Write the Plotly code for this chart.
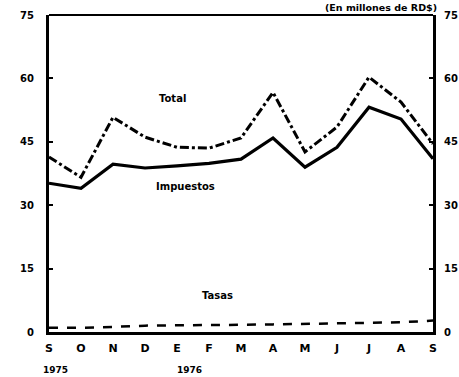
import plotly.graph_objects as go

# Monthly revenue, Sept 1975 - Sept 1976
meses = ["S", "O", "N", "D", "E", "F", "M", "A", "M", "J", "J", "A", "S"]
total = [41.4, 36.6, 50.8, 46.1, 43.7, 43.5, 45.9, 56.7, 42.6, 48.5, 60.3, 54.4, 44.5]
impuestos = [35.2, 34.0, 39.7, 38.8, 39.3, 39.9, 40.9, 45.9, 39.0, 43.7, 53.2, 50.4, 41.0]
tasas = [1.0, 1.0, 1.2, 1.5, 1.6, 1.6, 1.7, 1.8, 1.9, 2.0, 2.1, 2.3, 2.7]
y_ticks = [0, 15, 30, 45, 60, 75]

x = list(range(len(meses)))
FONT = dict(family="DejaVu Sans", color="black", weight="bold")

fig = go.Figure()
fig.add_trace(go.Scatter(x=x, y=total, mode="lines",
                         line=dict(color="black", width=3, dash="dashdot")))
fig.add_trace(go.Scatter(x=x, y=impuestos, mode="lines",
                         line=dict(color="black", width=3.2)))
fig.add_trace(go.Scatter(x=x, y=tasas, mode="lines",
                         line=dict(color="black", width=2.5, dash="dash")))
# invisible trace to drive the right-hand axis
fig.add_trace(go.Scatter(x=x, y=impuestos, yaxis="y2", mode="lines",
                         line=dict(width=0), opacity=0, hoverinfo="skip"))

fig.update_layout(
    width=459, height=377,
    margin=dict(l=49, r=26, t=15, b=45, autoexpand=False),
    paper_bgcolor="white", plot_bgcolor="white",
    showlegend=False,
    font=dict(FONT, size=10),
    xaxis=dict(range=[0, 12], tickmode="array", tickvals=x, ticktext=meses,
               showgrid=False, zeroline=False, showline=True, linecolor="black",
               linewidth=3, ticks="", ticklabelstandoff=4, automargin=False,
               tickfont=dict(FONT, size=11)),
    yaxis=dict(range=[0, 75], tickvals=y_ticks, showgrid=False, zeroline=False,
               showline=True, linecolor="black", linewidth=3, ticks="inside",
               ticklen=4, tickwidth=2, tickcolor="black", ticklabelstandoff=10,
               automargin=False, tickfont=dict(FONT, size=10)),
    yaxis2=dict(range=[0, 75], tickvals=y_ticks, overlaying="y", side="right",
                showgrid=False, zeroline=False, showline=True, linecolor="black",
                linewidth=3, ticks="inside", ticklen=4, tickwidth=2,
                tickcolor="black", ticklabelstandoff=6, automargin=False,
                tickfont=dict(FONT, size=10)),
    shapes=[dict(type="line", xref="paper", yref="paper", x0=0, x1=1, y0=1, y1=1,
                 line=dict(color="black", width=2))],
)

labels = [("Total", 3.87, 55.3), ("Impuestos", 4.28, 34.5), ("Tasas", 5.28, 8.7)]
for txt, lx, ly in labels:
    fig.add_annotation(x=lx, y=ly, text=txt, showarrow=False,
                       font=dict(FONT, size=10))

for txt, lx in [("1975", 0.2), ("1976", 4.4)]:
    fig.add_annotation(x=lx, y=-0.12, xref="x", yref="paper", text=txt,
                       yanchor="middle", showarrow=False, font=dict(FONT, size=9))

fig.add_annotation(x=1.013, y=1.044, xref="paper", yref="paper",
                   text="(En millones de RD$)", showarrow=False,
                   xanchor="right", yanchor="top", borderpad=0,
                   font=dict(FONT, size=9.5))

fig.write_html("out.html")
